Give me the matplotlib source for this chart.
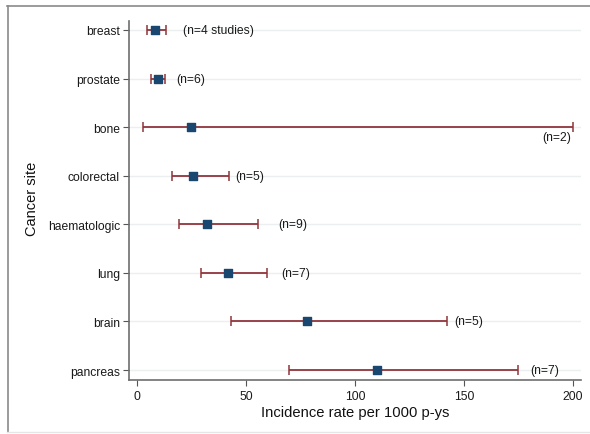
import matplotlib
matplotlib.use("Agg")
import matplotlib.pyplot as plt
from matplotlib.lines import Line2D

plt.rcParams['font.family'] = ['Liberation Sans', 'DejaVu Sans']

sites = ["breast", "prostate", "bone", "colorectal", "haematologic", "lung", "brain", "pancreas"]
rate = [8.3, 9.6, 24.8, 25.7, 32.0, 41.7, 78.0, 110.0]
lower = [4.6, 6.4, 2.8, 16.0, 19.3, 29.4, 43.0, 69.7]
upper = [13.3, 12.8, 200.0, 42.0, 55.5, 59.6, 142.0, 175.0]
labels = ["(n=4 studies)", "(n=6)", "(n=2)", "(n=5)", "(n=9)", "(n=7)", "(n=5)", "(n=7)"]
xticks = [0, 50, 100, 150, 200]

navy = "#1a476f"
maroon = "#90353b"

fig = plt.figure(figsize=(5.9, 4.35), dpi=100)
ax = fig.add_axes([0.2186, 0.1241, 0.9847 - 0.2186, 0.9494 - 0.1241])

ypos = list(range(len(sites)))
for y in ypos:
    ax.axhline(y, color="#ebefef", lw=1.0, zorder=0)

ax.hlines(ypos, lower, upper, color=maroon, lw=1.3, zorder=2)
ax.scatter(lower, ypos, marker="|", s=45, color=maroon, linewidths=1.1, zorder=2)
ax.scatter(upper, ypos, marker="|", s=45, color=maroon, linewidths=1.1, zorder=2)
ax.scatter(rate, ypos, marker="s", s=38, color=navy, zorder=3)

# label offsets in points (layout)
offsets = [17, 11, 0, 7, 20, 14, 8, 12]
for i, (u, lab) in enumerate(zip(upper, labels)):
    if i == 2:
        ax.annotate(lab, (u, ypos[i]), xytext=(-1, -3), textcoords="offset points",
                    ha="right", va="top", fontsize=8.7, color="#1a1a1a")
    else:
        ax.annotate(lab, (u, ypos[i]), xytext=(offsets[i] * 0.72, 0), textcoords="offset points",
                    ha="left", va="center", fontsize=8.7, color="#1a1a1a")

ax.set_xlim(-3.7, 203.7)
ax.set_ylim(7.206, -0.185)
ax.set_yticks(ypos)
ax.set_yticklabels(sites)
ax.set_xticks(xticks)
ax.set_xticklabels([str(v) for v in xticks])
ax.tick_params(axis="both", labelsize=8.7, colors="#1a1a1a", length=4.5, width=0.8, pad=2,
               color="#555555")
ax.tick_params(axis="x", pad=3)

for s in ["top", "right"]:
    ax.spines[s].set_visible(False)
for s in ["left", "bottom"]:
    ax.spines[s].set_color("#6e6e6e")
    ax.spines[s].set_linewidth(1.2)

ax.set_xlabel("Incidence rate per 1000 p-ys", fontsize=10.6, color="#111111", labelpad=2)
ax.set_ylabel("Cancer site", fontsize=10.5, color="#111111")
ax.yaxis.set_label_coords(-0.199, 0.506)

# outer frame
W, H = 590, 435
fig.add_artist(Line2D([7.5 / W, 7.5 / W], [1 - 7 / H, 1 - 433 / H], color="#8a8a8a", lw=1.2,
                      transform=fig.transFigure))
fig.add_artist(Line2D([7 / W, 1.0], [1 - 7 / H, 1 - 7 / H], color="#8a8a8a", lw=1.2,
                      transform=fig.transFigure))
fig.add_artist(Line2D([7 / W, 1.0], [1 - 432.5 / H, 1 - 432.5 / H], color="#e6e6e6", lw=1.0,
                      transform=fig.transFigure))

fig.savefig("out.png", dpi=100)
